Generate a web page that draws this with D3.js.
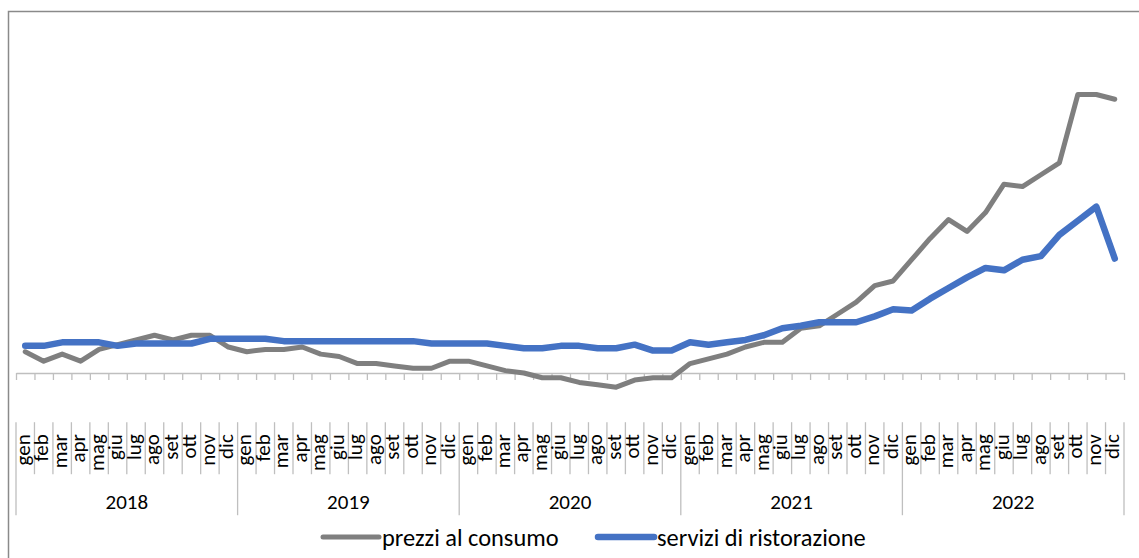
<!DOCTYPE html>
<html>
<head>
<meta charset="utf-8">
<script src="https://cdn.jsdelivr.net/npm/d3@7"></script>
<style>
  body { margin: 0; background: #fff; }
  svg text { font-family: Calibri, Carlito, Lato, sans-serif; fill: #000; }
</style>
</head>
<body>
<svg id="chart"></svg>
<script>
let width = 1139, height = 558;

let years = ["2018", "2019", "2020", "2021", "2022"];
let months = ["gen", "feb", "mar", "apr", "mag", "giu", "lug", "ago", "set", "ott", "nov", "dic"];
let seriesNames = ["prezzi al consumo", "servizi di ristorazione"];
let seriesColors = ["#7f7f7f", "#4472c4"];

let prezzi = [
  0.9, 0.5, 0.8, 0.5, 1.0, 1.2, 1.4, 1.6, 1.4, 1.6, 1.6, 1.1,
  0.9, 1.0, 1.0, 1.1, 0.8, 0.7, 0.4, 0.4, 0.3, 0.2, 0.2, 0.5,
  0.5, 0.3, 0.1, 0.0, -0.2, -0.2, -0.4, -0.5, -0.6, -0.3, -0.2, -0.2,
  0.4, 0.6, 0.8, 1.1, 1.3, 1.3, 1.9, 2.0, 2.5, 3.0, 3.7, 3.9,
  4.8, 5.7, 6.5, 6.0, 6.8, 8.0, 7.9, 8.4, 8.9, 11.8, 11.8, 11.6
];
let ristorazione = [
  1.15, 1.15, 1.3, 1.3, 1.3, 1.15, 1.25, 1.25, 1.25, 1.25, 1.45, 1.45,
  1.45, 1.45, 1.35, 1.35, 1.35, 1.35, 1.35, 1.35, 1.35, 1.35, 1.25, 1.25,
  1.25, 1.25, 1.15, 1.05, 1.05, 1.15, 1.15, 1.05, 1.05, 1.2, 0.95, 0.95,
  1.3, 1.2, 1.3, 1.4, 1.6, 1.9, 2.0, 2.15, 2.15, 2.15, 2.4, 2.7,
  2.65, 3.15, 3.6, 4.05, 4.45, 4.35, 4.8, 4.95, 5.85, 6.45, 7.05, 4.85
];

let svg = d3.select("#chart")
  .attr("width", width)
  .attr("height", height);

// chart frame, it runs past the right and bottom edges of the picture
svg.append("rect")
  .attr("x", 8.5).attr("y", 11.5)
  .attr("width", width).attr("height", height)
  .attr("fill", "none")
  .attr("stroke", "#8a8a8a")
  .attr("stroke-width", 1.5);

let periods = d3.range(years.length * months.length);

let x = d3.scaleBand().domain(periods).range([16, 1124]);
let xEdge = d3.scaleLinear().domain([0, periods.length]).range(x.range());
let y = d3.scaleLinear().domain([-2, 14]).range([420.2, 42.6]);

// category axis sits on zero, ticks between the months
let axis = svg.append("g")
  .attr("transform", "translate(0," + y(0) + ")")
  .call(d3.axisBottom(xEdge)
    .tickValues(d3.range(periods.length + 1))
    .tickSize(7)
    .tickSizeOuter(0)
    .tickFormat(""));
axis.select(".domain").attr("stroke", "#bfbfbf").attr("stroke-width", 1.5);
axis.selectAll(".tick line").attr("stroke", "#bfbfbf").attr("stroke-width", 1.3);

// labels are drawn at the bottom of the plot area, months then years
let labelTop = y(-2) + 2;

svg.append("g").selectAll("line")
  .data(d3.range(periods.length + 1))
  .join("line")
    .attr("x1", d => xEdge(d)).attr("x2", d => xEdge(d))
    .attr("y1", labelTop)
    .attr("y2", d => d % months.length == 0 ? labelTop + 93 : labelTop + 52)
    .attr("stroke", "#bfbfbf")
    .attr("stroke-width", 1.3);

svg.append("g").selectAll("text")
  .data(periods)
  .join("text")
    .attr("transform", d => "translate(" + (x(d) + x.bandwidth() / 2) + "," + (labelTop + 12) + ") rotate(-90)")
    .attr("text-anchor", "end")
    .attr("dy", "0.22em")
    .style("font-size", "21px")
    .text(d => months[d % months.length]);

svg.append("g").selectAll("text")
  .data(years)
  .join("text")
    .attr("x", (d, i) => (xEdge(i * 12) + xEdge((i + 1) * 12)) / 2)
    .attr("y", labelTop + 87)
    .attr("text-anchor", "middle")
    .style("font-size", "21px")
    .text(d => d);

let line = d3.line()
  .x((d, i) => x(i) + x.bandwidth() / 2)
  .y(d => y(d));

let widths = [5, 6.5];

svg.append("g").selectAll("path")
  .data([prezzi, ristorazione])
  .join("path")
    .attr("d", line)
    .attr("fill", "none")
    .attr("stroke", (d, i) => seriesColors[i])
    .attr("stroke-width", (d, i) => widths[i])
    .attr("stroke-linejoin", "round")
    .attr("stroke-linecap", "round");

// legend
let legendX = [323, 598];
let legendY = 537;

let legend = svg.append("g").selectAll("g")
  .data(seriesNames)
  .join("g")
    .attr("transform", (d, i) => "translate(" + legendX[i] + "," + legendY + ")");

legend.append("line")
  .attr("x1", 0).attr("x2", 56)
  .attr("stroke", (d, i) => seriesColors[i])
  .attr("stroke-width", (d, i) => widths[i])
  .attr("stroke-linecap", "round");

legend.append("text")
  .attr("x", 59)
  .attr("dy", "0.35em")
  .style("font-size", "24.4px")
  .text(d => d);
</script>
</body>
</html>
